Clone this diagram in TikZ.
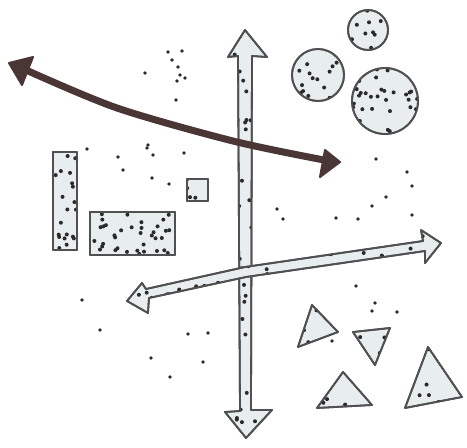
\documentclass[tikz,border=0pt]{standalone}
\usetikzlibrary{arrows.meta}

\definecolor{paper}{HTML}{E8EDEF}
\definecolor{pencil}{HTML}{505050}
\definecolor{umber}{HTML}{4A3634}
\definecolor{grain}{HTML}{2A2A2A}

% random specks inside a box (clipped by the caller)
\newcommand{\speckle}[5]{%
  \foreach \k in {1,...,#5}{\fill[grain] ({#1+rnd*(#3-#1)},{#2+rnd*(#4-#2)}) circle[radius=2pt];}}
% a filled sketch shape with specks in it
\newcommand{\grainyshape}[6]{%
  \filldraw[sketch] #1;
  \begin{scope}\clip #1; \speckle{#2}{#3}{#4}{#5}{#6}\end{scope}
  \draw[sketch, fill=none] #1;}

\begin{document}
\begin{tikzpicture}[x=1pt, y=-1pt,
    sketch/.style={draw=pencil, fill=paper, line width=1.8pt, line join=round},
    darkarrow/.style={umber, line width=7pt, line cap=round},
    darkhead/.style={draw=umber, fill=umber, line width=2pt, line join=round},
    loose/.style={grain}
  ]
  \pgfmathsetseed{4711}
  \useasboundingbox (0,0) rectangle (467,448);

  % --- 1. Vertical axis ---
  \grainyshape{(245,30) -- (267,57) -- (252,56) -- (251,410) -- (272,410) -- (246,438) -- (225,412) -- (240,411) -- (238,56) -- (228,57) -- cycle}{225}{30}{272}{438}{85}

  % --- 2. Light axis ---
  \grainyshape{(127,301) -- (142,283) -- (146,289) -- (245,267) -- (423,241) -- (421,230) -- (441,243) -- (425,263) -- (425,251) -- (246,277) -- (149,298) -- (148,313) -- cycle}{127}{230}{441}{313}{100}

  % --- 3. Dark axis ---
  \draw[darkarrow] plot[smooth] coordinates {(26,70) (117,108) (233,141) (324,160)};
  \filldraw[darkhead] (9,63) -- (33,57) -- (22,85) -- cycle;
  \filldraw[darkhead] (340,162) -- (325,150) -- (320,177) -- cycle;

  % --- 4. Circles ---
  \grainyshape{(368,30) circle[radius=20pt]}{348}{10}{388}{50}{12}
  \grainyshape{(318,75) circle[radius=26pt]}{292}{49}{344}{101}{20}
  \grainyshape{(385,101) circle[radius=33pt]}{352}{68}{418}{134}{32}

  % --- 5. Rectangles ---
  \grainyshape{(53,152) rectangle (77,250)}{53}{152}{77}{250}{20}
  \grainyshape{(90,212) rectangle (175,255)}{90}{212}{175}{255}{36}
  \grainyshape{(187,179) rectangle (208,201)}{187}{179}{208}{201}{4}

  % --- 6. Triangles ---
  \grainyshape{(312,305) -- (298,347) -- (338,332) -- cycle}{298}{305}{338}{347}{8}
  \grainyshape{(353,332) -- (390,328) -- (375,365) -- cycle}{353}{328}{390}{365}{6}
  \grainyshape{(343,372) -- (317,408) -- (372,405) -- cycle}{317}{372}{372}{408}{7}
  \grainyshape{(428,347) -- (405,408) -- (462,397) -- cycle}{405}{347}{462}{408}{12}

  % --- 7. Loose dots ---
  \foreach \p in {(168,52),(182,51),(172,60),(178,67),(180,75),(185,78),(177,81),(145,73),(176,100),
                  (87,149),(148,145),(147,148),(153,155),(118,157),(184,153),(123,170),(152,178),(169,184),
                  (376,159),(407,172),(412,186),(386,197),(372,206),(277,209),(283,219),(336,218),(358,219),(412,215),
                  (82,300),(100,330),(188,334),(208,333),(151,358),(203,362),(170,377),
                  (356,286),(375,303),(372,311),(397,312),(332,341)}
    \fill[loose] \p circle[radius=1.8pt];
\end{tikzpicture}
\end{document}
